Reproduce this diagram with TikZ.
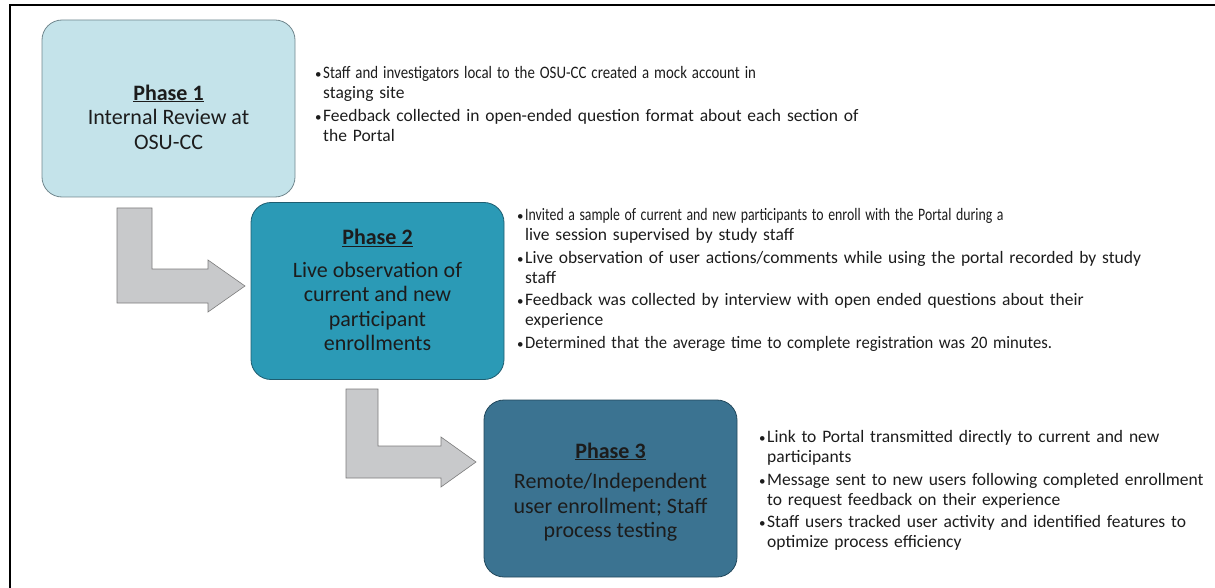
\documentclass[tikz,border=0pt]{standalone}
\usepackage{fontspec}
\setmainfont{Carlito}
\usetikzlibrary{positioning}
\definecolor{phasel}{HTML}{C4E3EA}
\definecolor{phasem}{HTML}{2B9AB6}
\definecolor{phased}{HTML}{3B7391}
\definecolor{randl}{HTML}{71878E}
\definecolor{randm}{HTML}{1E5D70}
\definecolor{randd}{HTML}{22485C}
\definecolor{pfeil}{HTML}{C8C9CB}
\definecolor{pfeilr}{HTML}{7C7C7C}
\definecolor{schrift}{HTML}{1C1C1C}
\newcommand{\phasetitle}[1]{\underline{\textbf{#1}}}
\newcommand{\punkt}{\par\hangindent=8pt\hangafter=1\noindent\makebox[8pt][l]{\fontsize{13}{13}\selectfont\textbullet}}
\newcommand{\squeeze}[2]{\scalebox{#1}[1]{#2}}
\tikzset{
  phasebox/.style={draw,rounded corners=20pt,minimum width=253pt,minimum height=177pt,line width=0.8pt},
  phasetext/.style={align=center,text=schrift,inner sep=0pt,font=\fontsize{22}{24.5}\selectfont},
  notes/.style={anchor=north west,align=left,text width=#1,inner sep=0pt,text=schrift,
    font={\fontsize{17.5}{20}\selectfont\setlength{\parskip}{2.5pt}}},
  knick/.style={fill=pfeil,draw=pfeilr,line width=0.6pt},
  rahmen/.style={black,line width=1.6pt},
}
\begin{document}
\begin{tikzpicture}[x=1pt,y=-1pt]
  \useasboundingbox (0,0) rectangle (1215,588);
  \draw[rahmen] (10,588) -- (10,5) -- (1215,5);
  % bent arrows
  \draw[knick] (117,208) -- (152,208) -- (152,269) -- (208,269) -- (208,260) -- (245,286)
    -- (208,312) -- (208,303) -- (117,303) -- cycle;
  \draw[knick] (346,389) -- (378,389) -- (378,446) -- (441,446) -- (441,437) -- (476,462)
    -- (441,487) -- (441,478) -- (346,478) -- cycle;
  % phases
  \node[phasebox,fill=phasel,draw=randl] (p1) at (168.5,108.5) {};
  \node[phasebox,fill=phasem,draw=randm] (p2) at (377.5,291) {};
  \node[phasebox,fill=phased,draw=randd] (p3) at (610.5,488.5) {};
  \node[phasetext] (t1) at (168.5,117) {\phasetitle{Phase 1}\\Internal Review at\\OSU-CC};
  \node[phasetext] (t2) at (377.5,290) {\phasetitle{Phase 2}\\[8pt]Live observation of\\current and new\\participant\\enrollments};
  \node[phasetext] (t3) at (610.5,492) {\phasetitle{Phase 3}\\[6pt]Remote/Independent\\user enrollment; Staff\\process testing};
  % notes
  \node[notes=600pt] (n1) at (315,56) {\punkt \squeeze{0.85}{Staff and investigators local to the OSU-CC created a mock account in}\newline staging site
    \punkt Feedback collected in open-ended question format about each section of\newline the Portal\par};
  \node[notes=690pt] (n2) at (517,198) {\punkt \squeeze{0.79}{Invited a sample of current and new participants to enroll with the Portal during a}\newline live session supervised by study staff
    \punkt Live observation of user actions/comments while using the portal recorded by study\newline staff
    \punkt Feedback was collected by interview with open ended questions about their\newline experience
    \punkt \squeeze{0.95}{Determined that the average time to complete registration was 20 minutes.}\par};
  \node[notes=480pt] (n3) at (759,420) {\punkt Link to Portal transmitted directly to current and new\newline participants
    \punkt Message sent to new users following completed enrollment\newline to request feedback on their experience
    \punkt Staff users tracked user activity and identified features to\newline optimize process efficiency\par};
\end{tikzpicture}
\end{document}
